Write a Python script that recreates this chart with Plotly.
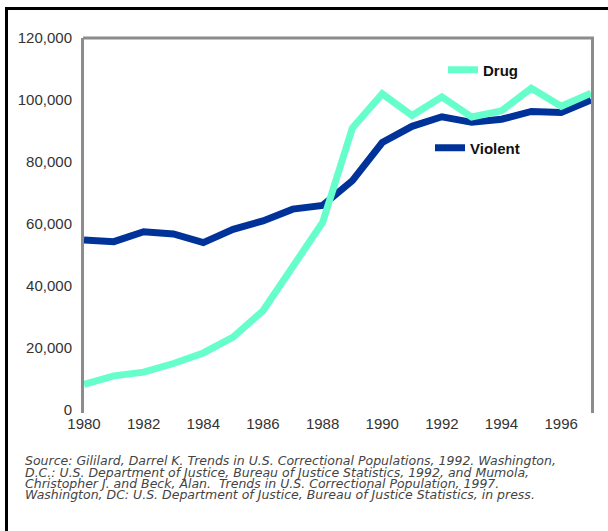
import plotly.graph_objects as go

years = list(range(1980, 1998))
drug = [8300, 11000, 12200, 15000, 18400, 23500, 32000, 46000, 60500, 91000,
        102000, 95000, 101000, 94500, 96500, 103800, 98000, 102200]
violent = [54800, 54300, 57500, 56800, 54000, 58300, 61000, 64800, 66000, 74000,
           86300, 91500, 94600, 92800, 93800, 96300, 96000, 100000]
y_ticks = [0, 20000, 40000, 60000, 80000, 100000, 120000]
x_ticks = list(range(1980, 1998, 2))
source_lines = [
    "Source: Gililard, Darrel K. Trends in U.S. Correctional Populations, 1992. Washington,",
    "D.C.: U.S. Department of Justice, Bureau of Justice Statistics, 1992, and Mumola,",
    "Christopher J. and Beck, Alan.  Trends in U.S. Correctional Population, 1997.",
    "Washington, DC: U.S. Department of Justice, Bureau of Justice Statistics, in press.",
]

W, H = 608, 531
L, R, T, B = 84, 17, 38, 118
PW, PH = W - L - R, H - T - B


def px(x):
    return (x - L) / PW


def py(y):
    return (H - B - y) / PH


FONT = "Liberation Sans, Arial, sans-serif"

fig = go.Figure()
fig.add_trace(go.Scatter(x=years, y=violent, mode="lines", name="Violent",
                         line=dict(color="#003399", width=7), legend="legend2"))
fig.add_trace(go.Scatter(x=years, y=drug, mode="lines", name="Drug",
                         line=dict(color="#66FFCC", width=7), legend="legend"))

axis_col = "#8c8c8c"
fig.update_layout(
    width=W, height=H,
    margin=dict(l=L, r=R, t=T, b=B),
    paper_bgcolor="white", plot_bgcolor="white",
    font=dict(family=FONT, size=15, color="#333"),
    xaxis=dict(range=[1980, 1997], tickvals=x_ticks, showgrid=False, zeroline=False,
               showline=False, ticks="", tickfont=dict(size=15, color="#333")),
    yaxis=dict(range=[-968, 120000], tickvals=y_ticks, tickformat=",", showgrid=False,
               zeroline=False, showline=True, mirror=True, linecolor=axis_col, linewidth=3,
               ticks="", ticklabelstandoff=6, tickfont=dict(size=15, color="#333")),
    legend=dict(x=px(443), y=py(70), xanchor="left", yanchor="middle",
                bgcolor="rgba(0,0,0,0)", font=dict(family=FONT, size=15, color="#111", weight="bold")),
    legend2=dict(x=px(430), y=py(148), xanchor="left", yanchor="middle",
                 bgcolor="rgba(0,0,0,0)", font=dict(family=FONT, size=15, color="#111", weight="bold")),
    showlegend=True,
)

shapes = [
    # top border line of plot
    dict(type="line", xref="paper", yref="paper", x0=px(83), x1=px(594), y0=1, y1=1,
         line=dict(color=axis_col, width=3)),
    # outer frame (left and top)
    dict(type="line", xref="paper", yref="paper", x0=px(6.5), x1=px(6.5), y0=py(7), y1=py(540),
         line=dict(color="black", width=3)),
    dict(type="line", xref="paper", yref="paper", x0=px(5), x1=px(620), y0=py(8.5), y1=py(8.5),
         line=dict(color="black", width=3)),
]
fig.update_layout(shapes=shapes)

line_y = [460.5, 472, 483.5, 495]
for txt, yy in zip(source_lines, line_y):
    fig.add_annotation(text=txt, xref="paper", yref="paper", x=px(23), y=py(yy),
                       xanchor="left", yanchor="middle", showarrow=False,
                       font=dict(family="DejaVu Sans, sans-serif", size=12.5, color="#444",
                                 style="italic"))

fig.write_html("out.html", config={"displayModeBar": False},
               post_script="document.body.style.margin='0';document.body.style.overflow='hidden';")
